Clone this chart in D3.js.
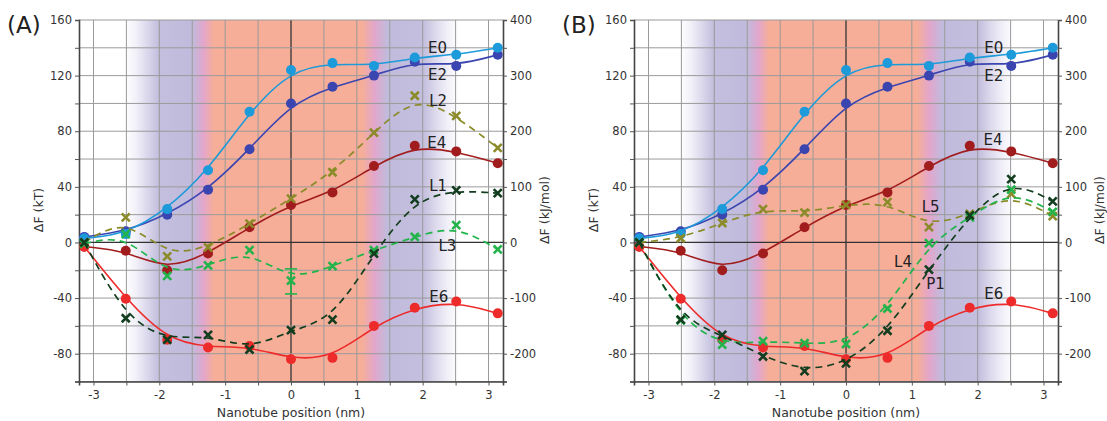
<!DOCTYPE html>
<html>
<head>
<meta charset="utf-8">
<script src="https://cdn.jsdelivr.net/npm/d3@7"></script>
<style>
  html, body { margin: 0; padding: 0; background: #fff; }
  svg { display: block; font-family: "DejaVu Sans", Verdana, sans-serif; }
</style>
</head>
<body>
<svg id="chart" width="1107" height="421"></svg>
<script>
// ---------- data ----------
const positions = [-3.14, -2.51, -1.88, -1.26, -0.63, 0, 0.63, 1.26, 1.88, 2.51, 3.14];

const E0 = [3, 6, 24, 52, 94, 124, 129, 127, 133, 135, 140];
const E2 = [4, 8, 20, 38, 67, 100, 112, 120, 130, 127, 135];
const E4 = [-3, -6, -20, -8, 11, 27, 36, 55, 69.5, 65.5, 57];
const E6 = [-3, -40.5, -70, -75.5, -74.5, -84, -83, -60, -47, -42.5, -51];

// Panel A ligand series
const L2 = [0, 18, -10, -3.5, 13.5, 31.5, 50.5, 79, 105.5, 91, 68];
const L1 = [0, -54.5, -70, -66.5, -77, -63, -55.5, -8, 31, 37.5, 35.5];
const L3 = [-1, 6, -24, -16.5, -5.5, -27.5, -17, -5.5, 4, 12.5, -5];
const L3errAt = 0;
const L3err = [-19, -37];

// Panel B ligand series
const L5 = [0, 3, 14, 24, 21.5, 27, 29, 11, 20.5, 35, 19];
const L4 = [0, -56, -73.5, -71, -72.5, -73, -47.5, -0.5, 18, 38, 22];
const P1 = [0, -55.5, -66.5, -82, -92.5, -87, -63.5, -19.5, 19.5, 45.5, 29.5];

const xTicks = [-3, -2, -1, 0, 1, 2, 3];
const yTicksKT = [-80, -40, 0, 40, 80, 120, 160];
const yTicksKJ = [-200, -100, 0, 100, 200, 300, 400];

// ---------- styles ----------
const COL = {
  E0: "#1c9ad9", E2: "#3b45b0", E4: "#a11d1d", E6: "#ee2b2b",
  olive: "#8b8b2a", dark: "#123d1e", green: "#22b44a"
};

const svg = d3.select("#chart");
const defs = svg.append("defs");
const W = 424, TOP = 20, BOTTOM = 381.5;

function drawPanel(left, tag, eLabels, ligands, ligLabels, errBar) {
  const g = svg.append("g").attr("transform", `translate(${left},0)`);
  const x = d3.scaleLinear().domain([-3.22, 3.22]).range([0, W]);
  const y = d3.scaleLinear().domain([-100, 160]).range([BOTTOM, TOP]);
  const y2 = d3.scaleLinear().domain([-250, 400]).range([BOTTOM, TOP]);

  // background gradient (objectBoundingBox: offsets relative to the rect)
  const gid = "bg" + tag;
  const grad = defs.append("linearGradient")
    .attr("id", gid).attr("x1", 0).attr("x2", 1).attr("y1", 0).attr("y2", 0);
  const stops = [
    [-3.22, "#ffffff"], [-2.52, "#ffffff"], [-2.35, "#f1f0f8"], [-2.2, "#dddaed"],
    [-2.02, "#c4bfde"], [-1.5, "#c0bbdc"],
    [-1.33, "#e2a6cc"], [-1.17, "#f6ae98"], [1.08, "#f6ae98"], [1.27, "#e2a6cc"],
    [1.46, "#c0bbdc"], [2.02, "#c4bfde"], [2.2, "#dddaed"], [2.38, "#f1f0f8"],
    [2.55, "#ffffff"], [3.22, "#ffffff"]
  ];
  stops.forEach(([v, c]) => grad.append("stop")
    .attr("offset", (v + 3.22) / 6.44).attr("stop-color", c));
  g.append("rect").attr("x", 0).attr("y", TOP).attr("width", W).attr("height", BOTTOM - TOP)
    .attr("fill", `url(#${gid})`);

  // grid
  const gx = d3.range(-3, 3.01, 0.5);
  const gy = d3.range(-100, 161, 20);
  g.selectAll(".gx").data(gx).enter().append("line")
    .attr("x1", d => x(d)).attr("x2", d => x(d)).attr("y1", TOP).attr("y2", BOTTOM)
    .attr("stroke", d => d === 0 ? "#333" : "#9a9a9a").attr("stroke-width", d => d === 0 ? 1.3 : 1);
  g.selectAll(".gy").data(gy).enter().append("line")
    .attr("x1", 0).attr("x2", W).attr("y1", d => y(d)).attr("y2", d => y(d))
    .attr("stroke", d => d === 0 ? "#333" : "#9a9a9a").attr("stroke-width", d => d === 0 ? 1.3 : 1);

  // axes
  const axL = d3.axisLeft(y).tickValues(d3.range(-100, 161, 20)).tickSize(4)
    .tickFormat(d => yTicksKT.includes(d) ? d : "");
  const axR = d3.axisRight(y2).tickValues(d3.range(-250, 401, 50)).tickSize(4)
    .tickFormat(d => yTicksKJ.includes(d) ? d : "");
  const axB = d3.axisBottom(x).tickValues(d3.range(-3, 3.01, 0.5)).tickSize(4)
    .tickFormat(d => xTicks.includes(d) ? d : "");
  [[axL, `translate(0,0)`, false], [axR, `translate(${W},0)`, false], [axB, `translate(0,${BOTTOM})`, true]]
    .forEach(([ax, tr, isBottom]) => {
      const a = g.append("g").attr("transform", tr).call(ax);
      a.select(".domain").attr("stroke", "#444").attr("stroke-width", 1.6);
      a.selectAll(".tick line").attr("stroke", "#555");
      a.selectAll("text").attr("fill", "#333").style("font-size", "11.5px")
        .style("font-family", "DejaVu Sans, Verdana, sans-serif");
      if (isBottom) a.selectAll("text").attr("dy", "0.9em");
    });

  // axis titles
  g.append("text").attr("transform", `translate(-36,210) rotate(-90)`)
    .attr("text-anchor", "middle").attr("fill", "#333").style("font-size", "12.5px").text("ΔF (kT)");
  g.append("text").attr("transform", `translate(${W + 46},210) rotate(-90)`)
    .attr("text-anchor", "middle").attr("fill", "#333").style("font-size", "12.5px").text("ΔF (kJ/mol)");
  g.append("text").attr("x", x(0)).attr("y", 417)
    .attr("text-anchor", "middle").attr("fill", "#333").style("font-size", "12.5px").text("Nanotube position (nm)");
  g.append("text").attr("x", -72).attr("y", 33).attr("fill", "#222")
    .style("font-size", "23px").text(`(${tag})`);

  const line = d3.line().x((d, i) => x(positions[i])).y(d => y(d)).curve(d3.curveBasis);

  // energy curves
  const energies = [["E4", E4], ["E6", E6], ["E2", E2], ["E0", E0]];
  energies.forEach(([k, arr]) => {
    g.append("path").attr("d", line(arr)).attr("fill", "none")
      .attr("stroke", COL[k]).attr("stroke-width", 1.6);
    g.selectAll(null).data(arr).enter().append("circle")
      .attr("cx", (d, i) => x(positions[i])).attr("cy", d => y(d)).attr("r", 5)
      .attr("fill", COL[k]);
  });

  // ligand curves
  ligands.forEach(([arr, col]) => {
    g.append("path").attr("d", line(arr)).attr("fill", "none")
      .attr("stroke", col).attr("stroke-width", 1.7).attr("stroke-dasharray", "7,5");
    g.selectAll(null).data(arr).enter().append("path")
      .attr("d", (d, i) => {
        const cx = x(positions[i]), cy = y(d), s = 4;
        return `M${cx - s},${cy - s}L${cx + s},${cy + s}M${cx - s},${cy + s}L${cx + s},${cy - s}`;
      })
      .attr("stroke", col).attr("stroke-width", 2.6).attr("fill", "none");
  });

  if (errBar) {
    const [at, vals, col] = errBar;
    const cx = x(at);
    g.append("line").attr("x1", cx).attr("x2", cx).attr("y1", y(vals[0])).attr("y2", y(vals[1]))
      .attr("stroke", col).attr("stroke-width", 1.6);
    vals.forEach(v => g.append("line").attr("x1", cx - 6).attr("x2", cx + 6)
      .attr("y1", y(v)).attr("y2", y(v)).attr("stroke", col).attr("stroke-width", 1.6));
  }

  // labels
  eLabels.concat(ligLabels).forEach(([t, lx, ly]) => {
    g.append("text").attr("x", x(lx)).attr("y", y(ly)).attr("fill", "#222")
      .style("font-size", "15px").text(t);
  });
}

drawPanel(79, "A",
  [["E0", 2.08, 136], ["E2", 2.08, 117], ["E4", 2.07, 68], ["E6", 2.1, -42.5]],
  [[L2, COL.olive], [L3, COL.green], [L1, COL.dark]],
  [["L2", 2.1, 98], ["L1", 2.1, 37], ["L3", 2.24, -6.5]],
  [L3errAt, L3err, COL.green]);

drawPanel(634, "B",
  [["E0", 2.1, 136], ["E2", 2.1, 116], ["E4", 2.09, 70], ["E6", 2.1, -41]],
  [[L5, COL.olive], [L4, COL.green], [P1, COL.dark]],
  [["L5", 1.15, 21.7], ["L4", 0.73, -17.6], ["P1", 1.22, -33.5]],
  null);
</script>
</body>
</html>
